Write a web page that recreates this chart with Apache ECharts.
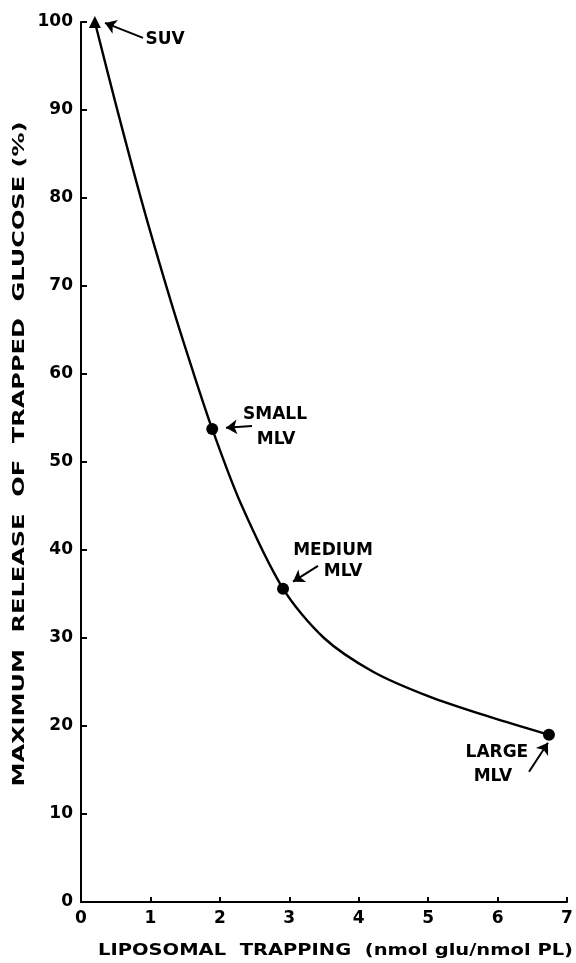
<!DOCTYPE html>
<html><head><meta charset="utf-8">
<script src="https://cdn.jsdelivr.net/npm/echarts@6/dist/echarts.min.js"></script>
<style>html,body{margin:0;padding:0;background:#fff}#c{width:576px;height:963px}</style>
</head><body><div id="c"></div>
<script>
// ---- data ----
const xTickValues = [0, 1, 2, 3, 4, 5, 6, 7];
const yTickValues = [0, 10, 20, 30, 40, 50, 60, 70, 80, 90, 100];
const xTitle = 'LIPOSOMAL  TRAPPING  (nmol glu/nmol PL)';
const yTitle = 'MAXIMUM  RELEASE  OF  TRAPPED  GLUCOSE (%)';

// fitted curve
const curveX = [0.2, 0.5, 0.9, 1.3, 1.6, 1.89, 2.3, 2.91, 3.5, 4.2, 5.0, 5.9, 6.74];
const curveY = [100, 90.7, 78.9, 68.1, 60.6, 53.75, 45.3, 35.6, 30, 26.2, 23.4, 21, 19];

// measured points
const pointNames = ['SUV', 'SMALL MLV', 'MEDIUM MLV', 'LARGE MLV'];
const pointX = [0.2, 1.89, 2.91, 6.74];
const pointY = [100, 53.75, 35.6, 19];
const pointSymbols = ['triangle', 'circle', 'circle', 'circle'];

// annotation text (data coordinates)
const labelText = ['SUV', 'SMALL', 'MLV', 'MEDIUM', 'MLV', 'LARGE', 'MLV'];
const labelX = [1.21, 2.794, 2.809, 3.63, 3.774, 5.99, 5.934];
const labelY = [97.95, 55.34, 52.5, 39.9, 37.5, 16.93, 14.2];

// annotation arrows (data coordinates): from -> to (arrowhead)
const arrowFromX = [0.893, 2.463, 3.414, 6.453];
const arrowFromY = [98.2, 54.1, 38.2, 14.8];
const arrowToX = [0.346, 2.089, 3.054, 6.726];
const arrowToY = [99.9, 53.9, 36.4, 18.1];

// ---- chart ----
const FONT = '"DejaVu Sans", sans-serif';
const chart = echarts.init(document.getElementById('c'), null, {renderer: 'canvas'});

function measure(text, font) {
  const ctx = document.createElement('canvas').getContext('2d');
  ctx.font = font;
  return ctx.measureText(text).width;
}
const TITLE_FONT = 'bold 15px "DejaVu Sans"';
const xTitleScale = 475 / measure(xTitle, TITLE_FONT);
const yTitleScale = 665 / measure(yTitle, TITLE_FONT);

const option = {
  animation: false,
  backgroundColor: '#fff',
  grid: {left: 81, right: 9, top: 22, bottom: 61, containLabel: false},
  xAxis: {
    type: 'value', min: 0, max: 7, interval: 1,
    axisLine: {show: true, onZero: false, lineStyle: {color: '#000', width: 2}},
    axisTick: {show: true, inside: true, length: 5, lineStyle: {color: '#000', width: 2}},
    axisLabel: {color: '#000', fontSize: 17, fontWeight: 'bold', fontFamily: FONT, margin: 8,
      formatter: v => xTickValues.includes(v) ? String(v) : ''},
    splitLine: {show: false}
  },
  yAxis: {
    type: 'value', min: 0, max: 100, interval: 10,
    axisLine: {show: true, onZero: false, lineStyle: {color: '#000', width: 2}},
    axisTick: {show: true, inside: true, length: 6, lineStyle: {color: '#000', width: 2}},
    axisLabel: {color: '#000', fontSize: 17, fontWeight: 'bold', fontFamily: FONT, margin: 8,
      formatter: v => yTickValues.includes(v) ? String(v) : ''},
    splitLine: {show: false}
  },
  series: [
    {
      type: 'line', smooth: 0.3, showSymbol: false, silent: true,
      data: curveX.map((x, i) => [x, curveY[i]]),
      lineStyle: {color: '#000', width: 2.4}
    },
    {
      type: 'scatter', silent: true,
      data: pointX.map((x, i) => ({name: pointNames[i], value: [x, pointY[i]], symbol: pointSymbols[i], symbolSize: 12})),
      itemStyle: {color: '#000', opacity: 1},
      markLine: {
        silent: true, symbol: ['none', 'arrow'], symbolSize: 11,
        label: {show: false},
        lineStyle: {color: '#000', width: 2, type: 'solid', opacity: 1},
        itemStyle: {color: '#000'},
        data: arrowFromX.map((x, i) => [{coord: [x, arrowFromY[i]]}, {coord: [arrowToX[i], arrowToY[i]]}])
      }
    },
    {
      type: 'scatter', silent: true, symbolSize: 0,
      itemStyle: {color: '#000', opacity: 1},
      data: labelX.map((x, i) => [x, labelY[i]]),
      label: {show: true, position: 'inside', color: '#000', fontSize: 17, fontWeight: 'bold', fontFamily: FONT,
        textBorderWidth: 0, formatter: p => labelText[p.dataIndex]}
    }
  ],
  graphic: [
    {type: 'text', x: 98, y: 951, scaleX: xTitleScale, silent: true,
      style: {text: xTitle, font: TITLE_FONT, fill: '#000', textAlign: 'left', textVerticalAlign: 'middle'}},
    {type: 'text', x: 20, y: 454, rotation: Math.PI / 2, scaleX: yTitleScale, silent: true,
      style: {text: yTitle, font: TITLE_FONT, fill: '#000', textAlign: 'center', textVerticalAlign: 'middle'}}
  ]
};
chart.setOption(option);
</script></body></html>
